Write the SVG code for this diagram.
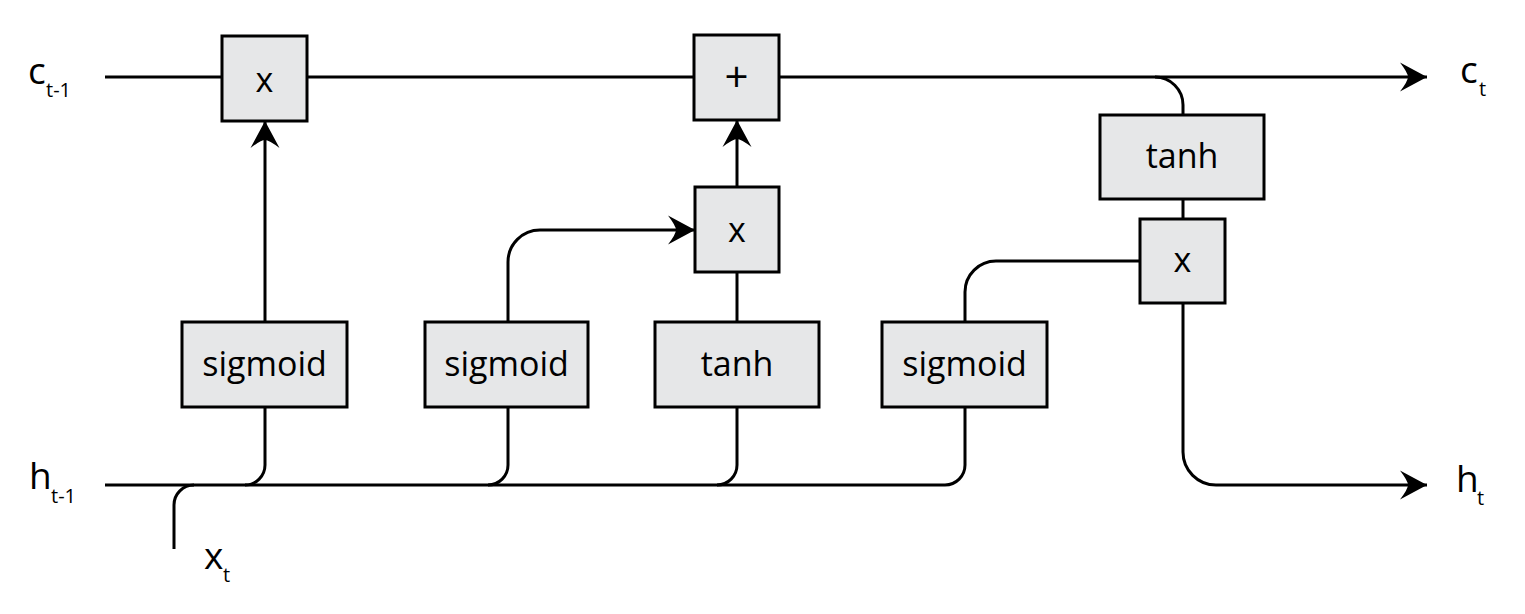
<svg xmlns="http://www.w3.org/2000/svg" width="1525" height="614" viewBox="0 0 1525 614">
<style>
.box{fill:#e6e7e8;stroke:#000;stroke-width:3}
.ln{fill:none;stroke:#000;stroke-width:3}
.lbl{font-family:"Open Sans","Liberation Sans",sans-serif;fill:#000}
.op{font-family:"Open Sans","Liberation Sans",sans-serif;font-size:34px;text-anchor:middle;fill:#000}
.plus{font-size:42px}
.fn{font-family:"Open Sans","Liberation Sans",sans-serif;font-size:34px;text-anchor:middle;fill:#000}
.main{font-size:37px}
.sub{font-size:20px}
</style>
<defs>
<marker id="arr" markerUnits="userSpaceOnUse" markerWidth="30" markerHeight="32" viewBox="-28 -16 30 32" refX="0" refY="0" orient="auto">
<path d="M0,0 L-27,-14.5 Q-19,-4 -19,0 Q-19,4 -27,14.5 Z" fill="#000"/>
</marker>
</defs>
<g id="connectors">
<path class="ln" d="M105,77 H1427" marker-end="url(#arr)"/>
<path class="ln" d="M1155,77 A28,28 0 0 1 1183,105 V115"/>
<path class="ln" d="M1183,199 V219"/>
<path class="ln" d="M1183,303 V452 A33,33 0 0 0 1216,485 H1427" marker-end="url(#arr)"/>
<path class="ln" d="M105,485 H945 A20,20 0 0 0 965,465 V407"/>
<path class="ln" d="M245,485 A20,20 0 0 0 265,465 V407"/>
<path class="ln" d="M488,485 A20,20 0 0 0 508,465 V407"/>
<path class="ln" d="M717,485 A20,20 0 0 0 737,465 V407"/>
<path class="ln" d="M174,549 V505 A20,20 0 0 1 194,485"/>
<path class="ln" d="M265,322 V121" marker-end="url(#arr)"/>
<path class="ln" d="M508,322 V262 A32,32 0 0 1 540,230 H695" marker-end="url(#arr)"/>
<path class="ln" d="M737,322 V272"/>
<path class="ln" d="M737,187 V120" marker-end="url(#arr)"/>
<path class="ln" d="M965,322 V292 A31,31 0 0 1 996,261 H1140"/>
</g>
<g id="mul1"><rect class="box" x="222" y="36" width="85" height="85"/><text class="op" x="264.5" y="92">x</text></g>
<g id="add"><rect class="box" x="694" y="35" width="85" height="85"/><text class="op plus" x="736.5" y="92">+</text></g>
<g id="mul2"><rect class="box" x="695" y="187" width="84" height="85"/><text class="op" x="737" y="242">x</text></g>
<g id="tanh2"><rect class="box" x="1100" y="115" width="164" height="84"/><text class="fn" x="1182" y="168">tanh</text></g>
<g id="mul3"><rect class="box" x="1140" y="219" width="85" height="84"/><text class="op" x="1182.5" y="272">x</text></g>
<g id="sigmoid1"><rect class="box" x="182" y="322" width="165" height="85"/><text class="fn" x="264.5" y="376">sigmoid</text></g>
<g id="sigmoid2"><rect class="box" x="425" y="322" width="163" height="85"/><text class="fn" x="506.5" y="376">sigmoid</text></g>
<g id="tanh1"><rect class="box" x="655" y="322" width="164" height="85"/><text class="fn" x="737" y="376">tanh</text></g>
<g id="sigmoid3"><rect class="box" x="882" y="322" width="165" height="85"/><text class="fn" x="964.5" y="376">sigmoid</text></g>
<g id="labels">
<text class="lbl"><tspan class="main" x="28" y="84">c</tspan><tspan class="sub" x="46" y="97">t-1</tspan></text>
<text class="lbl"><tspan class="main" x="29" y="489">h</tspan><tspan class="sub" x="51" y="503">t-1</tspan></text>
<text class="lbl"><tspan class="main" x="204" y="569">x</tspan><tspan class="sub" x="223" y="582">t</tspan></text>
<text class="lbl"><tspan class="main" x="1460" y="83">c</tspan><tspan class="sub" x="1479" y="96">t</tspan></text>
<text class="lbl"><tspan class="main" x="1456" y="492">h</tspan><tspan class="sub" x="1477" y="505">t</tspan></text>
</g>
</svg>
